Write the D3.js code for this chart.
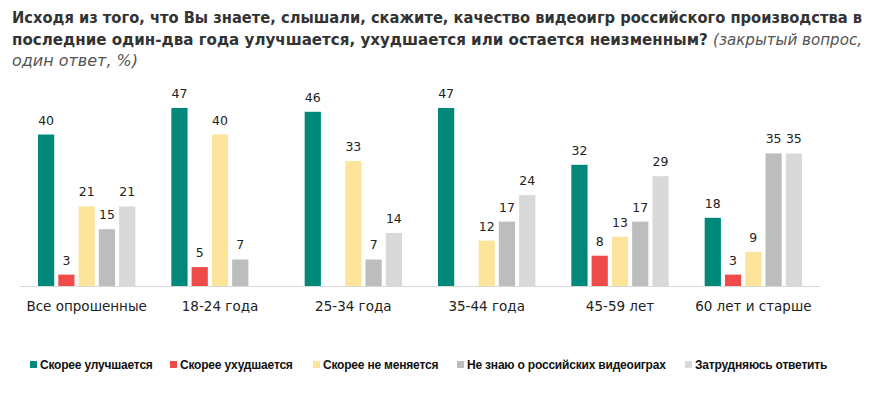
<!DOCTYPE html>
<meta charset="utf-8">
<script src="https://d3js.org/d3.v7.min.js"></script>
<style>
  body { margin: 0; background: #fff; }
</style>
<body>
<div id="chart"></div>
<script>

// data
var groups = ["Все опрошенные", "18-24 года", "25-34 года", "35-44 года", "45-59 лет", "60 лет и старше"];
var seriesNames = ["Скорее улучшается", "Скорее ухудшается", "Скорее не меняется", "Не знаю о российских видеоиграх", "Затрудняюсь ответить"];
var better   = [40, 47, 46, 47, 32, 18];
var worse    = [3, 5, null, null, 8, 3];
var same     = [21, 40, 33, 12, 13, 9];
var dontKnow = [15, 7, 7, 17, 17, 35];
var hard     = [21, null, 14, 24, 29, 35];
var colors = ["#00897b", "#ef4b4b", "#fde49b", "#bdbdbd", "#d9d9d9"];

var values = [better, worse, same, dontKnow, hard];

var W = 889, H = 395;
var svg = d3.select("#chart").append("svg")
    .attr("width", W)
    .attr("height", H);

// title
var title = svg.append("g")
    .style("font-family", "'DejaVu Sans Condensed', 'DejaVu Sans', sans-serif")
    .style("font-size", "16.5px")
    .style("fill", "#333");

title.append("text")
    .attr("x", 12).attr("y", 23)
    .attr("textLength", 850).attr("lengthAdjust", "spacingAndGlyphs")
    .style("font-weight", "bold")
    .text("Исходя из того, что Вы знаете, слышали, скажите, качество видеоигр российского производства в");

var l2 = title.append("text")
    .attr("x", 12).attr("y", 45)
    .attr("textLength", 850).attr("lengthAdjust", "spacingAndGlyphs");
l2.append("tspan").style("font-weight", "bold")
    .text("последние один-два года улучшается, ухудшается или остается неизменным? ");
l2.append("tspan").style("font-style", "italic").style("fill", "#555")
    .text("(закрытый вопрос,");

title.append("text")
    .attr("x", 12).attr("y", 66)
    .attr("textLength", 126).attr("lengthAdjust", "spacingAndGlyphs")
    .style("font-style", "italic").style("fill", "#555")
    .text("один ответ, %)");

// scales
var x0 = d3.scaleBand()
    .domain(groups)
    .range([20, 820])
    .paddingInner(0.27)
    .paddingOuter(0.135);

var x1 = d3.scaleBand()
    .domain(d3.range(5))
    .range([0, x0.bandwidth()])
    .paddingInner(0.2);

var y = d3.scaleLinear()
    .domain([0, 47])
    .range([286, 108]);

// baseline
svg.append("line")
    .attr("x1", 20).attr("x2", 820)
    .attr("y1", y(0) + 0.5).attr("y2", y(0) + 0.5)
    .style("stroke", "#d9d9d9");

// bars
var bars = [];
values.forEach(function(arr, s) {
  arr.forEach(function(v, g) {
    if (v != null) bars.push({s: s, g: g, v: v});
  });
});

svg.append("g").selectAll("rect")
  .data(bars)
  .enter()
  .append("rect")
    .attr("x", function(d) { return x0(groups[d.g]) + x1(d.s); })
    .attr("y", function(d) { return y(d.v); })
    .attr("width", x1.bandwidth())
    .attr("height", function(d) { return y(0) - y(d.v); })
    .style("fill", function(d) { return colors[d.s]; });

svg.append("g").selectAll("text")
  .data(bars)
  .enter()
  .append("text")
    .attr("x", function(d) { return x0(groups[d.g]) + x1(d.s) + x1.bandwidth() / 2; })
    .attr("y", function(d) { return y(d.v) - 10; })
    .attr("text-anchor", "middle")
    .style("font-family", "'DejaVu Sans', sans-serif")
    .style("font-size", "12.5px")
    .style("fill", "#222")
    .text(function(d) { return d.v; });

// category axis
var xAxis = svg.append("g")
    .attr("transform", "translate(0," + y(0) + ")")
    .call(d3.axisBottom(x0).tickSize(0).tickPadding(15));
xAxis.select(".domain").remove();
xAxis.selectAll("text")
    .style("font-family", "'DejaVu Sans', sans-serif")
    .style("font-size", "13.5px")
    .style("fill", "#222");

// legend
var legendX = [30, 170, 313, 457, 685];
var legend = svg.append("g").selectAll("g")
  .data(seriesNames)
  .enter()
  .append("g")
    .attr("transform", function(d, i) { return "translate(" + legendX[i] + ",365)"; });

legend.append("rect")
    .attr("x", 0).attr("y", -4)
    .attr("width", 7).attr("height", 7)
    .style("fill", function(d, i) { return colors[i]; });

legend.append("text")
    .attr("x", 10).attr("y", 4)
    .style("font-family", "'Liberation Sans', Arial, sans-serif")
    .style("font-weight", "bold")
    .style("font-size", "12px")
    .style("letter-spacing", "-0.2px")
    .style("fill", "#111")
    .text(function(d) { return d; });

</script>
</body>
